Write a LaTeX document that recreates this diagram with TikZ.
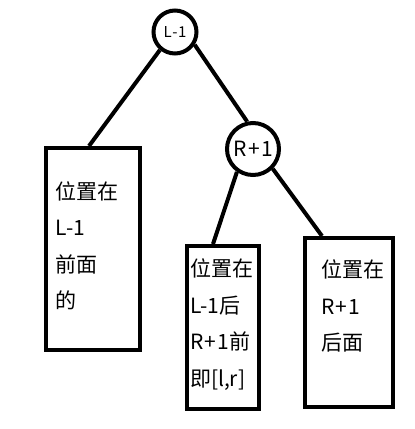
\documentclass[tikz,border=0pt]{standalone}
\usepackage{fontspec}
\setmainfont{Noto Sans CJK SC}
\newcommand{\rplus}{R\kern1.5pt+\kern1.5pt1}
\begin{document}
\begin{tikzpicture}[x=1pt,y=-1pt,line width=4pt,
  treecircle/.style={draw,circle,inner sep=0pt},
  leafbox/.style={draw,rectangle,inner sep=0pt,anchor=north west},
  boxtext/.style={anchor=west,inner sep=0pt,align=left,font=\fontsize{21}{36.5}\selectfont},
  edge/.style={line width=4pt}]
\useasboundingbox (0,0) rectangle (415,429);
\node[treecircle,minimum size=43pt,font=\fontsize{15}{15}\selectfont] (root) at (175,32) {L\kern0.5pt-\kern0.5pt1};
\node[treecircle,minimum size=52pt,font=\fontsize{21}{21}\selectfont] (rp) at (253,149) {\rplus};
\node[leafbox,minimum width=94pt,minimum height=202pt] (lbox) at (44,146) {};
\node[leafbox,minimum width=72pt,minimum height=163pt] (mbox) at (185,244) {};
\node[leafbox,minimum width=88pt,minimum height=169pt] (rbox) at (303,236) {};
\node[boxtext] (ltext) at (54,246) {位置在\\L-1\\前面\\的};
\node[boxtext] (mtext) at (188,324.5) {位置在\\L-1后\\\rplus 前\\即[l,r]};
\node[boxtext] (rtext) at (319,306) {位置在\\\rplus\\后面};
\draw[edge] (root.-130) -- ([xshift=45pt]lbox.north west);
\draw[edge] (root.-33) -- (rp.102);
\draw[edge] (rp.-125) -- ([xshift=28pt]mbox.north west);
\draw[edge] (rp.-45) -- ([xshift=19pt]rbox.north west);
\end{tikzpicture}
\end{document}
